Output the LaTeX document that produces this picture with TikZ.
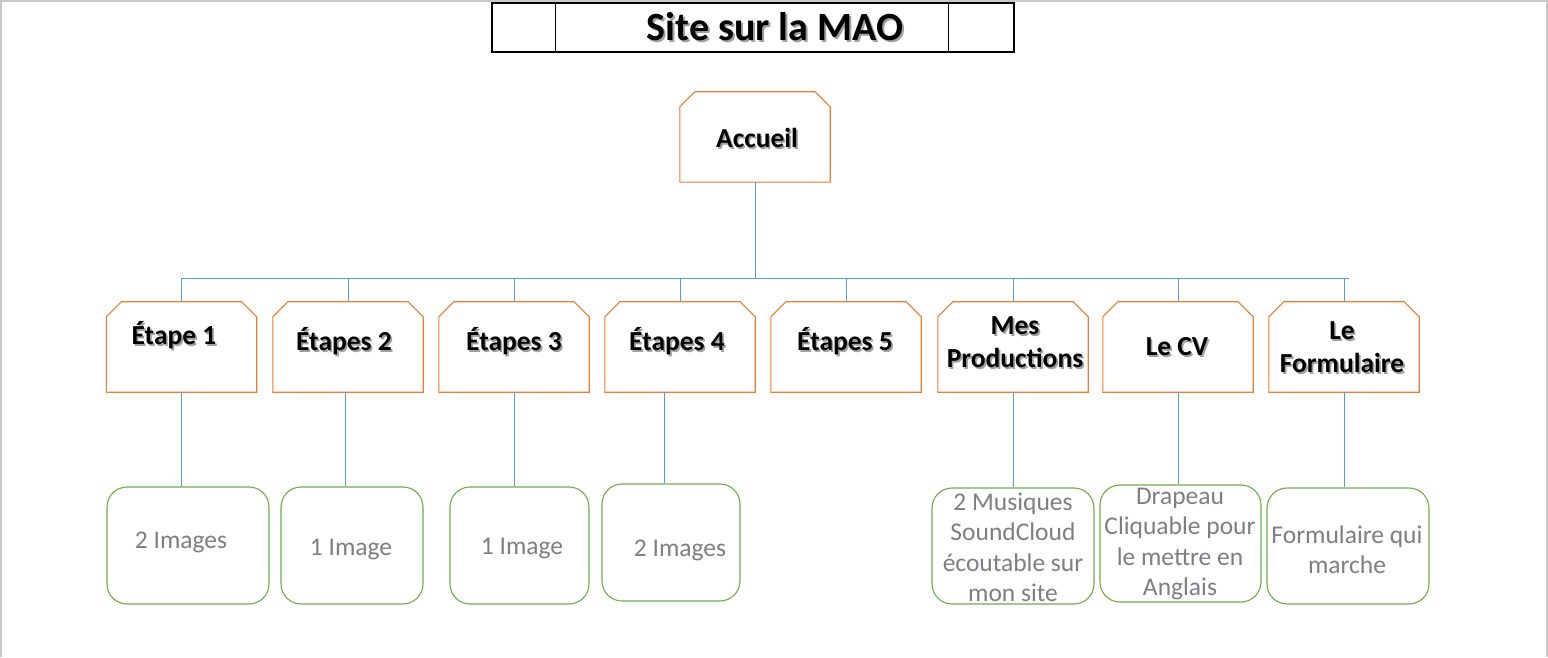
\documentclass[tikz,border=0pt]{standalone}
\usepackage{fontspec}
\setmainfont{Carlito}
\usetikzlibrary{calc}
\definecolor{orangeline}{RGB}{237,125,49}
\definecolor{greenline}{RGB}{112,173,71}
\definecolor{blueline}{RGB}{91,155,213}
\definecolor{shadowgray}{RGB}{160,160,160}
\definecolor{softgray}{RGB}{125,127,132}
\definecolor{framegray}{RGB}{200,200,200}
\tikzset{
  x=1pt, y=1pt,
  lbl/.style={font=\bfseries\fontsize{27.5}{33}\selectfont, align=center, inner sep=0pt},
  shd/.style={lbl, text=shadowgray},
  stepnode/.style={draw=none, minimum width=150pt, minimum height=90pt, inner sep=0pt},
  leaf/.style={draw=greenline, line width=1.1pt, rounded corners=20pt, minimum height=117pt, inner sep=0pt},
  leaftext/.style={font=\fontsize{25.5}{30.5}\selectfont, text=softgray, align=center, inner sep=0pt},
  conn/.style={draw=blueline, line width=1pt},
  chline/.style={draw=orangeline, line width=1.1pt},
}
\newcommand\shtext[4][lbl]{% style, name, position, text
  \node[shd] at ([shift={(1.7pt,-1.7pt)}]#3) {#4};
  \node[#1] (#2) at (#3) {#4};}
\newcommand\chbox[1]{%
  \draw[chline] (#1.south west) -- ([yshift=-15pt]#1.north west) -- ([xshift=15pt]#1.north west)
    -- ([xshift=-15pt]#1.north east) -- ([yshift=-15pt]#1.north east) -- (#1.south east) -- cycle;}
\begin{document}
\begin{tikzpicture}
\useasboundingbox (0,0) rectangle (1548,657);
\fill[white] (0,0) rectangle (1548,657);
% frame
\draw[framegray, line width=1.6pt] (1,0) -- (1,656) -- (1547,656) -- (1547,0);

% title
\node[draw=black, line width=1.1pt, minimum width=522pt, minimum height=49pt, inner sep=0pt] (title) at (753,629.5) {};
\draw[black, line width=1.1pt] ([xshift=64pt]title.north west) -- ([xshift=64pt]title.south west);
\draw[black, line width=1.1pt] ([xshift=-66pt]title.north east) -- ([xshift=-66pt]title.south east);
\node[shd, font=\bfseries\fontsize{40}{44}\selectfont] at (777,628) {Site sur la MAO};
\node[lbl, font=\bfseries\fontsize{40}{44}\selectfont] (titletext) at (775,630) {Site sur la MAO};

% Accueil
\node[stepnode] (acc) at (755,520) {};
\chbox{acc}
\shtext{acctext}{757,519}{Accueil}

% steps
\node[stepnode] (s1) at (181.5,310) {};
\node[stepnode] (s2) at (348,310) {};
\node[stepnode] (s3) at (514,310) {};
\node[stepnode] (s4) at (680,310) {};
\node[stepnode] (s5) at (846,310) {};
\node[stepnode] (s6) at (1013,310) {};
\node[stepnode] (s7) at (1178,310) {};
\node[stepnode] (s8) at (1344,310) {};
\foreach \n in {s1,s2,s3,s4,s5,s6,s7,s8} {\chbox{\n}}
\shtext{t1}{174,322}{Étape 1}
\shtext{t2}{344,316}{Étapes 2}
\shtext{t3}{514,316}{Étapes 3}
\shtext{t4}{677,316}{Étapes 4}
\shtext{t5}{845,316}{Étapes 5}
\shtext{t6}{1015,315}{Mes\\Productions}
\shtext{t7}{1177,310}{Le CV}
\shtext{t8}{1342,310}{Le\\Formulaire}

% bus
\coordinate (busL) at (181,378);
\coordinate (busR) at (1349,378);
\draw[conn] (busL) -- (busR);
\draw[conn] (acc.south) -- (acc.south |- busL);
\foreach \n in {s1,s2,s3,s4,s5,s6,s7,s8} {\draw[conn] (\n.north) -- (\n.north |- busL);}

% leaves
\node[leaf, minimum width=162pt] (b1) at (188,111.5) {};
\node[leaf, minimum width=142pt] (b2) at (352,111.5) {};
\node[leaf, minimum width=139pt] (b3) at (519.5,111.5) {};
\node[leaf, minimum width=138pt] (b4) at (671,114.5) {};
\node[leaf, minimum width=162pt, minimum height=116pt] (b5) at (1013,111) {};
\node[leaf, minimum width=161pt] (b6) at (1180.5,113.5) {};
\node[leaf, minimum width=162pt, minimum height=116pt] (b7) at (1348,111) {};

\node[leaftext] (l1) at (181,115) {2 Images};
\node[leaftext] (l2) at (351,108) {1 Image};
\node[leaftext] (l3) at (522,109) {1 Image};
\node[leaftext] (l4) at (680,107) {2 Images};
\node[leaftext] (l5) at (1013,109.5) {2 Musiques\\SoundCloud\\écoutable sur\\mon site};
\node[leaftext] (l6) at (1180,113) {Drapeau\\Cliquable pour\\le mettre en\\Anglais};
\node[leaftext] (l7) at (1347,107.5) {Formulaire qui\\marche};

% drops to leaves
\draw[conn] (s1.south) -- (s1.south |- b1.north);
\draw[conn] ([xshift=-3pt]s2.south) -- ([xshift=-3pt]s2.south |- b2.north);
\draw[conn] (s3.south) -- (s3.south |- b3.north);
\draw[conn] ([xshift=-16pt]s4.south) -- ([xshift=-16pt]s4.south |- b4.north);
\draw[conn] (s6.south) -- (s6.south |- b5.north);
\draw[conn] (s7.south) -- (s7.south |- b6.north);
\draw[conn] (s8.south) -- (s8.south |- b7.north);
\end{tikzpicture}
\end{document}
